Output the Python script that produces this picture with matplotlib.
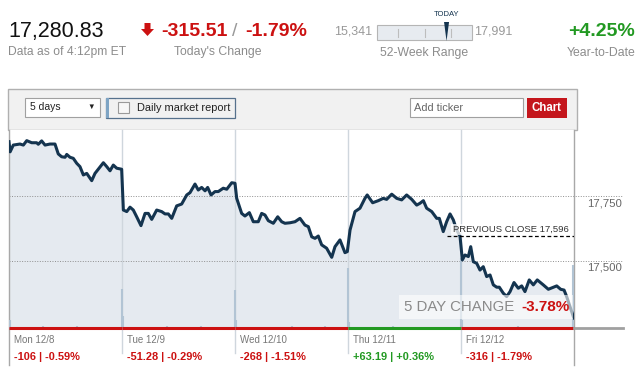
import numpy as np
import matplotlib
matplotlib.use('Agg')
import matplotlib.pyplot as plt
from matplotlib.patches import Rectangle, Polygon
from matplotlib.transforms import blended_transform_factory

plt.rcParams['font.family'] = ['Liberation Sans', 'DejaVu Sans']

# ---- header figures
last = 17280.83
chg = -315.51
chg_pct = -1.79
lo52, hi52 = 15341, 17991
ytd = 4.25
prev_close = 17596

# ---- 5 day intraday (position within each session 0..1, index value)
days = ['Mon 12/8', 'Tue 12/9', 'Wed 12/10', 'Thu 12/11', 'Fri 12/12']
day_chg = ['-106 | -0.59%', '-51.28 | -0.29%', '-268 | -1.51%', '+63.19 | +0.36%', '-316 | -1.79%']
day_up = [False, False, False, True, False]

mon_t = [0, .01, .038, .097, .127, .157, .201, .245, .259, .289, .319, .363, .407, .436, .466, .496,
         .511, .540, .569, .599, .628, .658, .688, .732, .761, .835, .865, .894, .923, .953, .997]
mon_p = [17959, 17920, 17946, 17950, 17946, 17963, 17955, 17955, 17949, 17962, 17946, 17950, 17950,
         17912, 17901, 17899, 17910, 17899, 17895, 17876, 17863, 17831, 17837, 17809, 17837, 17878,
         17863, 17847, 17869, 17857, 17853]
tue_t = [.012, .042, .071, .100, .130, .168, .204, .233, .263, .307, .351, .381, .410, .440, .484,
         .528, .573, .602, .646, .675, .705, .735, .758, .788, .823, .852, .896, .927, .971, 1.0]
tue_p = [17696, 17690, 17707, 17696, 17670, 17636, 17683, 17683, 17660, 17696, 17690, 17681, 17681,
         17664, 17712, 17719, 17754, 17763, 17796, 17773, 17783, 17770, 17783, 17754, 17767, 17767,
         17780, 17776, 17801, 17799]
wed_t = [.015, .059, .088, .127, .162, .206, .236, .265, .295, .339, .378, .413, .442, .487, .531,
         .575, .619, .649, .679, .708, .737, .767, .811, .856, .885, .929, .973, .994]
wed_p = [17741, 17683, 17673, 17686, 17651, 17651, 17683, 17677, 17655, 17645, 17670, 17651, 17645,
         17647, 17651, 17664, 17638, 17632, 17593, 17587, 17596, 17562, 17549, 17514, 17555, 17581,
         17532, 17536]
thu_t = [.018, .062, .106, .150, .170, .218, .268, .312, .342, .387, .431, .475, .519, .564, .608,
         .637, .667, .696, .741, .785, .808, .843, .873, .903, .932, .962, .991]
thu_p = [17619, 17690, 17703, 17741, 17754, 17724, 17732, 17741, 17737, 17757, 17741, 17735, 17754,
         17737, 17715, 17722, 17732, 17703, 17690, 17664, 17664, 17613, 17651, 17681, 17658, 17619,
         17596]
fri_t = [.012, .035, .065, .086, .109, .139, .168, .197, .227, .257, .286, .316, .339, .374, .404,
         .434, .469, .507, .537, .566, .604, .640, .675, .728, .773, .817, .847, .882, .912, .935,
         .965, .994, 1.0]
fri_p = [17504, 17523, 17517, 17555, 17497, 17491, 17465, 17478, 17440, 17446, 17408, 17399, 17399,
         17376, 17363, 17382, 17417, 17395, 17404, 17382, 17427, 17408, 17427, 17408, 17391, 17399,
         17404, 17391, 17388, 17363, 17324, 17286, 17281]

# volume (relative), position in trading days
vol_t = [0.01, 0.3, 0.6, 0.996, 1.01, 1.4, 1.7, 1.996, 2.01, 2.5, 2.8, 2.996, 3.01, 3.4,
         3.996, 4.01, 4.5, 4.99]
vol = [8, 2, 2, 39, 12, 2, 2, 38, 8, 2, 2, 60, 6, 2, 70, 8, 2, 63]

t = np.concatenate([np.array(d) + i for i, d in enumerate([mon_t, tue_t, wed_t, thu_t, fri_t])])
p = np.concatenate([mon_p, tue_p, wed_p, thu_p, fri_p])

W, H = 642, 375
fig = plt.figure(figsize=(W / 100, H / 100), dpi=100)
fig.patch.set_facecolor('white')

# pixel-space overlay for the page furniture
ui = fig.add_axes([0, 0, 1, 1])
ui.set_xlim(0, W); ui.set_ylim(H, 0); ui.axis('off')

red = '#cc1111'; green = '#229922'; grey = '#8c8c8c'; navy = '#14344f'

ui.text(8, 31.5, f'{last:,.2f}', fontsize=15.5, va='center', color='#111111')
ui.text(8, 52.5, 'Data as of 4:12pm ET', fontsize=8.7, va='center', color=grey)
ui.add_patch(Polygon([(144.5, 23), (150.5, 23), (150.5, 29), (154, 29), (147.5, 36), (141, 29), (144.5, 29)],
                     closed=True, fc=red, ec='none'))
ui.text(161, 31.5, f'{chg:,.2f}', fontsize=14, fontweight='bold', va='center', color=red)
ui.text(232, 31.5, '/', fontsize=14, va='center', color='#999999')
ui.text(245, 31.5, f'{chg_pct:.2f}%', fontsize=14, fontweight='bold', va='center', color=red)
ui.text(217.5, 52.5, "Today's Change", fontsize=8.8, va='center', ha='center', color=grey)

ui.text(372, 32, f'{lo52:,}', fontsize=9, va='center', ha='right', color='#999999')
ui.add_patch(Rectangle((377, 25), 95, 15, fc='#e7ebf0', ec='#b5b5b5', lw=0.8))
for fx in (0.22, 0.5, 0.78):
    ui.plot([377 + 95 * fx] * 2, [29, 37], color='#bdbdbd', lw=0.8)
mx = 377 + 95 * (last - lo52) / (hi52 - lo52)
ui.add_patch(Polygon([(mx - 2.5, 22), (mx + 2.5, 22), (mx, 41)], closed=True, fc=navy, ec='none'))
ui.text(mx, 15, 'TODAY', fontsize=5.5, ha='center', va='center', color=navy)
ui.text(474, 32, f'{hi52:,}', fontsize=9, va='center', ha='left', color='#999999')
ui.text(424.5, 53, '52-Week Range', fontsize=8.8, va='center', ha='center', color=grey)

ui.text(635, 32, f'+{ytd:.2f}%', fontsize=14, fontweight='bold', va='center', ha='right', color=green)
ui.text(635, 53, 'Year-to-Date', fontsize=8.8, va='center', ha='right', color=grey)

# toolbar
ui.add_patch(Rectangle((8, 89), 569, 41, fc='#f1f1f1', ec='#b0b0b0', lw=1))
ui.add_patch(Rectangle((25, 98), 75, 19, fc='white', ec='#a0a0a0', lw=0.8))
ui.text(30, 107.5, '5 days', fontsize=7.5, va='center', color='#222222')
ui.text(91, 107, '\u25bc', fontsize=5.5, va='center', ha='center', color='#222222')
ui.add_patch(Rectangle((106, 98), 129, 20, fc='#f1f1f1', ec='#56718c', lw=0.9))
ui.add_patch(Rectangle((106, 98), 2.5, 20, fc='#7ea4c4', ec='none'))
ui.add_patch(Rectangle((118, 102), 11, 11, fc='#f7f7f7', ec='#9a9a9a', lw=0.8))
ui.text(137, 108, 'Daily market report', fontsize=7.9, va='center', color='#222222')
ui.add_patch(Rectangle((410, 98), 113, 19, fc='white', ec='#a0a0a0', lw=0.8))
ui.text(414, 108, 'Add ticker', fontsize=7.9, va='center', color='#666666')
ui.add_patch(Rectangle((527, 98), 40, 20, fc='#c4161c', ec='none'))
ui.text(547, 108, 'Chart', fontsize=8.3, fontweight='bold', va='center', ha='center', color='white')

# ---- chart
x0, x1, ytop, ybot = 9, 574, 130, 328
ax = fig.add_axes([x0 / W, (H - ybot) / H, (x1 - x0) / W, (ybot - ytop) / H])
ylo, yhi = 17242, 18004
ax.set_xlim(0, 5); ax.set_ylim(ylo, yhi)
ax.set_facecolor('white')
for s in ax.spines.values():
    s.set_visible(False)
ax.set_xticks([]); ax.set_yticks([])

ax.fill_between(t, p, ylo, color='#e5eaf0', lw=0, zorder=1)
ax.vlines(vol_t, 0, np.array(vol) / 198, transform=ax.get_xaxis_transform(),
          color='#b2c4d4', lw=1.5, zorder=2)

ext = 1 + (623 - x1) / (x1 - x0)
for lvl in (17750, 17500):
    ax.axhline(lvl, xmin=0, xmax=ext, color='#8f8f8f', lw=0.7, ls=(0, (1, 1.6)), clip_on=False, zorder=1.5)
    ax.annotate(f'{lvl:,}', xy=(ext, lvl), xycoords=blended_transform_factory(ax.transAxes, ax.transData),
                xytext=(-1, -7), textcoords='offset pixels', ha='right', va='center',
                fontsize=8.2, color='#666666', annotation_clip=False)

for d in range(1, 5):
    ax.axvline(d, ymin=-0.126, ymax=1, color='#cfd6dd', lw=1, clip_on=False, zorder=1.6)
for d in (0, 5):
    ax.axvline(d, ymin=-0.187, ymax=1, color='#a8a8a8', lw=1, clip_on=False, zorder=1.6)

ax.plot(t, p, color=navy, lw=2.2, zorder=3, solid_joinstyle='round')

for i in range(5):
    c = green if day_up[i] else red
    ax.plot([i, i + 1], [ylo, ylo], color=c, lw=2.2, solid_capstyle='butt', clip_on=False, zorder=5)
    ax.text(i + 0.044, -0.061, days[i], transform=ax.get_xaxis_transform(), fontsize=7,
            color='#777777', va='center', ha='left')
    ax.text(i + 0.044, -0.146, day_chg[i], transform=ax.get_xaxis_transform(), fontsize=7.9,
            fontweight='bold', color=c, va='center', ha='left')
ax.axhline(ylo, xmin=1, xmax=ext, color='#a0a0a0', lw=2, clip_on=False, zorder=5)

# previous close marker
ax.hlines(prev_close, (447 - x0) / 113, 5, colors='black', linestyles=(0, (3, 2)), lw=0.9, zorder=4)
ax.annotate(f'PREVIOUS CLOSE {prev_close:,}', xy=(4.95, prev_close), xytext=(0, 2),
            textcoords='offset pixels', ha='right', va='bottom', fontsize=6.8, color='#333333', zorder=4,
            bbox=dict(boxstyle='square,pad=0.15', fc='white', ec='none', alpha=0.75))

# 5 day change box
five = (last / (mon_p[0]) - 1) * 100
ax.add_patch(Rectangle((0.690, 0.045), 0.308, 0.122, transform=ax.transAxes, fc='white', ec='none',
                       alpha=0.6, zorder=4))
ax.text(0.699, 0.106, '5 DAY CHANGE', transform=ax.transAxes, fontsize=10.8, color='#8a8a8a',
        va='center', ha='left', zorder=5)
ax.text(0.993, 0.106, f'{five:.2f}%', transform=ax.transAxes, fontsize=11, fontweight='bold',
        color=red, va='center', ha='right', zorder=5)

fig.savefig('out.png', dpi=100, facecolor='white')
